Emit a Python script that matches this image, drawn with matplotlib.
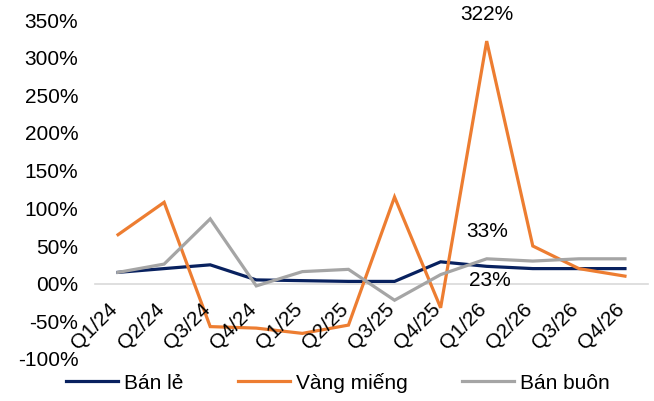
import matplotlib as mpl
import matplotlib.pyplot as plt
import matplotlib.transforms as mtransforms

mpl.rcParams["font.family"] = ["Liberation Sans", "DejaVu Sans"]
mpl.rcParams["font.size"] = 15

# -----------------------------------------------------------------------------
# Data
# -----------------------------------------------------------------------------

quarters = ["Q1/24", "Q2/24", "Q3/24", "Q4/24", "Q1/25", "Q2/25",
            "Q3/25", "Q4/25", "Q1/26", "Q2/26", "Q3/26", "Q4/26"]

banLe = [15, 20, 25, 5, 4, 3, 3, 29, 23, 20, 20, 20]
vangMieng = [65, 108, -57, -59, -66, -55, 115, -32, 322, 50, 20, 10]
banBuon = [15, 26, 86, -3, 16, 19, -22, 12, 33, 30, 33, 33]

seriesNames = ["Bán lẻ", "Vàng miếng", "Bán buôn"]
seriesColors = ["#08215F", "#ED7D31", "#A5A5A5"]

# -----------------------------------------------------------------------------
# Plot
# -----------------------------------------------------------------------------

fig = plt.figure(figsize=(6.54, 4.01), dpi=100)
ax = fig.add_axes([95 / 654, 42 / 401, 553 / 654, 339 / 401])

xs = list(range(len(quarters)))
for values, name, color in zip([banLe, vangMieng, banBuon], seriesNames, seriesColors):
    ax.plot(xs, values, color=color, linewidth=2.3, label=name,
            solid_joinstyle="miter")

ax.set_xlim(-0.5, len(quarters) - 0.5)
ax.set_ylim(-100, 350)
ax.set_yticks(range(-100, 351, 50))
ax.set_yticklabels(["{:02d}%".format(v) if v >= 0 else "{}%".format(v)
                    for v in range(-100, 351, 50)])

for side in ["top", "right", "left"]:
    ax.spines[side].set_visible(False)
ax.spines["bottom"].set_position(("data", 0))
ax.spines["bottom"].set_color("#D9D9D9")
ax.spines["bottom"].set_linewidth(1.2)
ax.spines["bottom"].set_zorder(0)

# category labels sit under the zero line, rotated like in Excel
ax.set_xticks(xs)
ax.set_xticklabels([])
ax.tick_params(axis="x", length=0)
ax.tick_params(axis="y", length=0, pad=12)
labelShift = mtransforms.ScaledTranslation(-10 / 100, -16 / 100, fig.dpi_scale_trans)
for x, q in zip(xs, quarters):
    ax.text(x, 0, q, rotation=45, ha="right", va="top",
            rotation_mode="anchor", transform=ax.transData + labelShift)

# data labels on Q1/26
i = quarters.index("Q1/26")
for val, dx, dy in [(vangMieng[i], 0, 19), (banBuon[i], 0, 20), (banLe[i], 2, -10)]:
    ax.annotate("{}%".format(val), xy=(i, val), xytext=(dx, dy),
                textcoords="offset points", ha="center", va="center",
                annotation_clip=False)

fig.legend(loc="lower center", bbox_to_anchor=(0.517, -0.005), ncol=3,
           frameon=False, handlelength=2.5, handletextpad=0.3,
           columnspacing=2.6, borderaxespad=0.1)

plt.savefig("out.png", dpi=100)
